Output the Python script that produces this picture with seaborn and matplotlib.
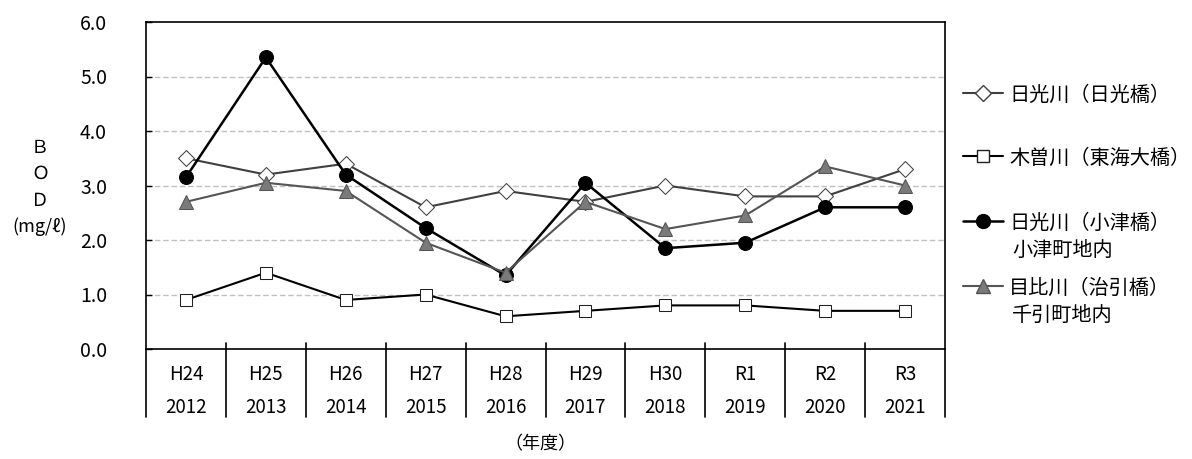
import matplotlib
matplotlib.use("Agg")
import matplotlib.pyplot as plt
import seaborn as sns
import numpy as np
from matplotlib.lines import Line2D
import matplotlib.transforms as mtransforms

# ---- data ----
era_labels = ["H24", "H25", "H26", "H27", "H28", "H29", "H30", "R1", "R2", "R3"]
year_labels = ["2012", "2013", "2014", "2015", "2016", "2017", "2018", "2019", "2020", "2021"]
nikko_nikko = [3.5, 3.2, 3.4, 2.6, 2.9, 2.7, 3.0, 2.8, 2.8, 3.3]
kiso_tokai = [0.9, 1.4, 0.9, 1.0, 0.6, 0.7, 0.8, 0.8, 0.7, 0.7]
nikko_ozu = [3.15, 5.35, 3.2, 2.22, 1.35, 3.05, 1.85, 1.95, 2.6, 2.6]
mebi_jibiki = [2.7, 3.05, 2.9, 1.95, 1.4, 2.7, 2.2, 2.45, 3.35, 3.0]
series_labels = ["日光川（日光橋）", "木曽川（東海大橋）", "日光川（小津橋）", "目比川（治引橋）"]
second_lines = ["", "", "小津町地内", "千引町地内"]
yticks = [0.0, 1.0, 2.0, 3.0, 4.0, 5.0, 6.0]

sns.set_theme(style="white")
plt.rcParams["font.family"] = ["Noto Sans CJK JP", "DejaVu Sans"]
plt.rcParams["text.color"] = "black"
plt.rcParams["xtick.color"] = "black"
plt.rcParams["ytick.color"] = "black"

W, H = 1192, 459
fig = plt.figure(figsize=(W / 100, H / 100), dpi=100)
ax = fig.add_axes([146 / W, 1 - 349 / H, (945 - 146) / W, (349 - 22) / H])

x = np.arange(len(era_labels))
styles = [
    dict(color="#404040", marker="D", markerfacecolor="white", markeredgecolor="#404040", ms=8.5, lw=1.5),
    dict(color="black", marker="s", markerfacecolor="white", markeredgecolor="#202020", ms=8.5, lw=1.5),
    dict(color="black", marker="o", markerfacecolor="black", markeredgecolor="black", ms=10, lw=1.8),
    dict(color="#555555", marker="^", markerfacecolor="#7a7a7a", markeredgecolor="#555555", ms=10, lw=1.5),
]
all_series = [nikko_nikko, kiso_tokai, nikko_ozu, mebi_jibiki]
for vals, st, lab in zip(all_series, styles, series_labels):
    sns.lineplot(x=x, y=vals, ax=ax, label=lab, legend=False, sort=False, **st)

ax.set_xlim(-0.5, len(era_labels) - 0.5)
ax.set_ylim(0, 6)
ax.set_yticks(yticks)
ax.set_yticklabels([f"{v:.1f}" for v in yticks], fontsize=14)
ax.tick_params(axis="y", direction="in", length=4, width=1, color="black", pad=28, left=True)
for v in yticks[1:-1]:
    ax.axhline(v, color="#c0c0c0", lw=1, ls=(0, (4, 2)), zorder=0)

ax.set_xticks(x)
ax.set_xticklabels([f"{e}\n{y}" for e, y in zip(era_labels, year_labels)], fontsize=13.5, linespacing=1.75)
ax.tick_params(axis="x", length=0, pad=11)
ax.set_xlabel("")
ax.set_ylabel("")
for sp in ax.spines.values():
    sp.set_visible(True)
    sp.set_color("black")
    sp.set_linewidth(1.2)

# category separators (table style)
trans = mtransforms.blended_transform_factory(ax.transData, ax.transAxes)
for b in np.arange(-0.5, len(era_labels), 1.0):
    ax.plot([b, b], [-68 / 327, 6 / 327 if 0 < b < len(era_labels) - 1 else 0], transform=trans,
            color="black", lw=1.2, clip_on=False)

# y-axis label
for t, yy in zip(["Ｂ", "Ｏ", "Ｄ", "(mg/ℓ)"], [148, 174, 201, 227]):
    fig.text(40 / W, 1 - yy / H, t, ha="center", va="center", fontsize=13)

fig.text(540 / W, 1 - 444 / H, "（年度）", ha="center", va="center", fontsize=13)

# legend
lines = ax.get_lines()[:4]
leg_y = [95, 158, 223, 288]
for ln, lab, yy, sec in zip(lines, series_labels, leg_y, second_lines):
    h = Line2D([], [], color=ln.get_color(), lw=ln.get_linewidth(), marker=ln.get_marker(),
               markerfacecolor=ln.get_markerfacecolor(), markeredgecolor=ln.get_markeredgecolor(),
               ms=ln.get_markersize())
    lg = fig.legend([h], [lab], loc="center left", bbox_to_anchor=(963 / W, 1 - yy / H),
                    frameon=False, fontsize=14.5, handlelength=2.0, handletextpad=0.3,
                    borderpad=0, borderaxespad=0)
    if sec:
        fig.text(1012 / W, 1 - (yy + 27) / H, sec, ha="left", va="center", fontsize=14.5)

fig.savefig("out.png", dpi=100)
